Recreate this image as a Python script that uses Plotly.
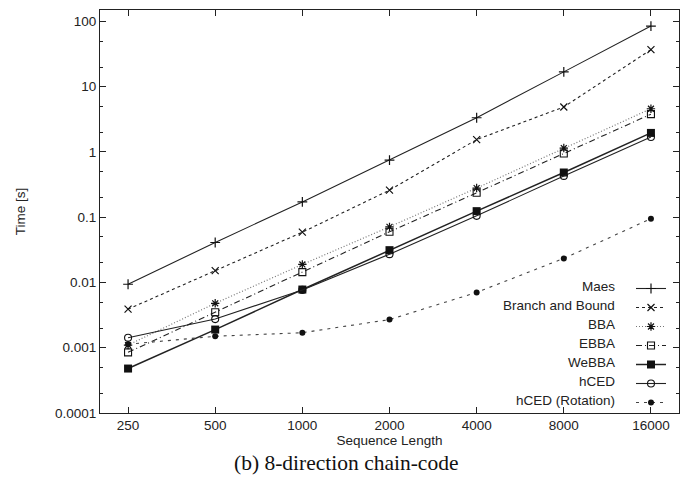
import plotly.graph_objects as go
import math

lengths = [250, 500, 1000, 2000, 4000, 8000, 16000]
length_labels = ["250", "500", "1000", "2000", "4000", "8000", "16000"]

maes = [0.0094, 0.041, 0.172, 0.75, 3.35, 16.9, 85]
branch_bound = [0.0039, 0.0152, 0.059, 0.26, 1.55, 4.9, 37]
bba = [0.0011, 0.0048, 0.0189, 0.0713, 0.28, 1.15, 4.6]
ebba = [0.00085, 0.0035, 0.0144, 0.0598, 0.237, 0.95, 3.8]
webba = [0.00048, 0.0019, 0.0078, 0.0313, 0.124, 0.485, 1.96]
hced = [0.00142, 0.00275, 0.0077, 0.0272, 0.105, 0.43, 1.7]
hced_rot = [0.00113, 0.0015, 0.0017, 0.0027, 0.00705, 0.0234, 0.095]

y_tickvals = [0.0001, 0.001, 0.01, 0.1, 1, 10, 100]
y_ticktext = ["0.0001", "0.001", "0.01", "0.1", "1", "10", "100"]

series_names = ["Maes", "Branch and Bound", "BBA", "EBBA", "WeBBA", "hCED", "hCED (Rotation)"]

FONT = "Liberation Sans, Arial, sans-serif"
INK = "#222222"
FS = 13.5

styles = [
    dict(y=maes, dash="solid", color="#222", width=1.1, symbol="cross-thin", size=7, mline=1.2),
    dict(y=branch_bound, dash="3px,3px", color="#222", width=1.1, symbol="x-thin", size=7, mline=1.2),
    dict(y=bba, dash="1px,2px", color="#777", width=1.2, symbol="asterisk", size=7, mline=1.2),
    dict(y=ebba, dash="6px,3px,1px,3px", color="#222", width=1.1, symbol="square-open", size=7, mline=1.1),
    dict(y=webba, dash="solid", color="#222", width=1.5, symbol="square", size=8, mline=0),
    dict(y=hced, dash="solid", color="#222", width=1.1, symbol="circle-open", size=7, mline=1.1),
    dict(y=hced_rot, dash="3px,5px", color="#444", width=1.1, symbol="circle", size=6, mline=0),
]

fig = go.Figure()
for name, s in zip(series_names, styles):
    fig.add_trace(go.Scatter(
        x=lengths, y=s["y"], name="", mode="lines+markers",
        line=dict(color=s["color"], width=s["width"], dash=s["dash"]),
        marker=dict(symbol=s["symbol"], size=s["size"], color="#111",
                    line=dict(color="#111", width=s["mline"])),
        showlegend=True,
    ))

# plot area in pixels
W, H = 691, 492
L, R, T, B = 100, 12, 10, 79
PW, PH = W - L - R, H - T - B

def px_x(px):
    return (px - L) / PW

def px_y(py):
    return 1 - (py - T) / PH

legend_top_px = 274
row0 = legend_top_px + 12
row_h = 19

fig.update_layout(
    width=W, height=H,
    margin=dict(l=L, r=R, t=T, b=B, autoexpand=False),
    paper_bgcolor="white", plot_bgcolor="white",
    font=dict(family=FONT, size=FS, color=INK),
    showlegend=True,
    legend=dict(
        x=px_x(676), xanchor="right",
        y=px_y(legend_top_px), yanchor="top",
        bgcolor="rgba(0,0,0,0)", borderwidth=0,
        font=dict(size=10), itemwidth=30, tracegroupgap=0,
    ),
)

fig.update_xaxes(
    type="log", range=[math.log10(200), math.log10(20000)],
    tickvals=lengths, ticktext=length_labels,
    ticks="inside", ticklen=6, tickcolor=INK, tickwidth=1,
    showline=True, linecolor=INK, linewidth=1, mirror="ticks",
    showgrid=False, zeroline=False, automargin=False,
    title=dict(text="Sequence Length", font=dict(size=FS), standoff=3),
    tickfont=dict(size=FS),
)
fig.update_yaxes(
    type="log", range=[-4, math.log10(150)],
    tickvals=y_tickvals, ticktext=y_ticktext,
    ticks="inside", ticklen=6, tickcolor=INK, tickwidth=1,
    showline=True, linecolor=INK, linewidth=1, mirror="ticks",
    showgrid=False, zeroline=False, automargin=False,
    minor=dict(ticks="inside", ticklen=3, tickcolor=INK, dtick="D2", showgrid=False),
    title=dict(text="Time [s]", font=dict(size=FS), standoff=26),
    tickfont=dict(size=FS),
)

# legend labels (right-aligned text to the left of the legend samples, as in gnuplot)
for i, name in enumerate(series_names):
    fig.add_annotation(
        text=name, xref="paper", yref="paper",
        x=px_x(617), xanchor="right",
        y=px_y(row0 + i * row_h), yanchor="middle",
        showarrow=False, font=dict(size=FS, color=INK, family=FONT),
    )

fig.add_annotation(
    text="(b) 8-direction chain-code", xref="paper", yref="paper",
    x=px_x(346), xanchor="center",
    y=px_y(463), yanchor="middle",
    showarrow=False, font=dict(size=21.5, color="#111", family="Liberation Serif, Times New Roman, serif"),
)

fig.write_html("out.html", config={"displayModeBar": False},
               post_script="document.body.style.margin='0px';")
